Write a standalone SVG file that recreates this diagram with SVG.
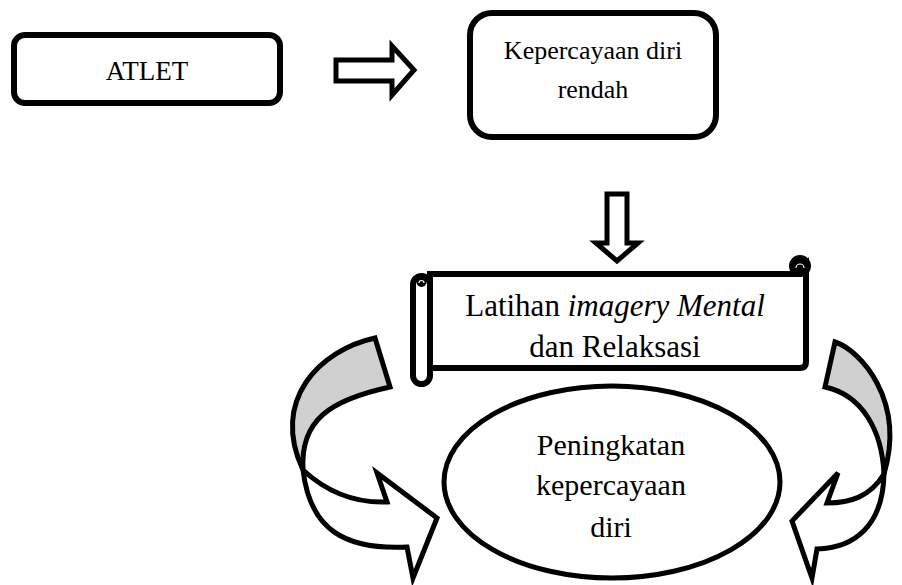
<svg xmlns="http://www.w3.org/2000/svg" width="902" height="585" viewBox="0 0 902 585">
<style>
.t{font-family:"Liberation Serif","Times New Roman",serif;font-size:30px;fill:#000;text-anchor:middle}
.box{fill:#fff;stroke:#000;stroke-width:6}
.ln{fill:#fff;stroke:#000;stroke-width:5;stroke-linejoin:miter}
.gray{fill:#d0d0d0;stroke:#000;stroke-width:5;stroke-linejoin:miter}
</style>
<rect width="902" height="585" fill="#fff"/>
<g id="atlet">
<rect class="box" x="14" y="35" width="266" height="68" rx="11"/>
<text class="t" x="147" y="80" style="font-size:27px">ATLET</text>
</g>
<g id="kepercayaan-rendah">
<rect class="box" x="470" y="13" width="246" height="124" rx="22"/>
<text class="t" x="593" y="59" style="font-size:26px">Kepercayaan diri</text>
<text class="t" x="593" y="98" style="font-size:26px">rendah</text>
</g>
<g id="latihan">
<path class="box" d="M430,274 H800 L806,266 V362 Q806,368 800,368 H430 Z"/>
<circle cx="800" cy="266" r="8" fill="#000" stroke="#000" stroke-width="6"/>
<path d="M796,268 A4,4 0 0 1 804,268" fill="none" stroke="#fff" stroke-width="1.2"/>
<rect class="box" x="413" y="276" width="17" height="108" rx="8.5"/>
<circle cx="421.5" cy="282" r="5" fill="#000"/>
<path d="M419,283 A2.5,2.5 0 0 1 424,283" fill="none" stroke="#fff" stroke-width="1.2"/>
<text class="t" x="615" y="316" style="font-size:31px">Latihan <tspan font-style="italic">imagery Mental</tspan></text>
<text class="t" x="615" y="357" style="font-size:31px">dan Relaksasi</text>
</g>
<g id="peningkatan">
<ellipse class="ln" cx="612" cy="482" rx="168" ry="96"/>
<text class="t" x="611" y="455">Peningkatan</text>
<text class="t" x="611" y="495">kepercayaan</text>
<text class="t" x="611" y="537">diri</text>
</g>
<g id="connectors">
<polygon class="ln" stroke-width="6" points="336,60 392,60 392,46 414,70 392,95 392,81 336,81"/>
<polygon class="ln" stroke-width="4" points="607,194 627,194 627,243 638,243 617,261 596,243 607,243"/>
<path class="gray" d="M375,338 C320,350 270,400 303,470 C300,420 330,400 390,387 Z"/>
<path class="ln" d="M303,470 C330,495 360,503 387,502 L377,473 L437,518 L413,578 L407,547 C345,550 310,530 303,470 Z"/>
<path class="gray" d="M835,342 C860,350 906,400 884,474 C882,430 862,395 825,387 Z"/>
<path class="ln" d="M884,474 C870,497 850,503 827,503 L838,473 L792,521 L812,578 L817,549 C855,548 883,525 884,474 Z"/>
</g>
</svg>
